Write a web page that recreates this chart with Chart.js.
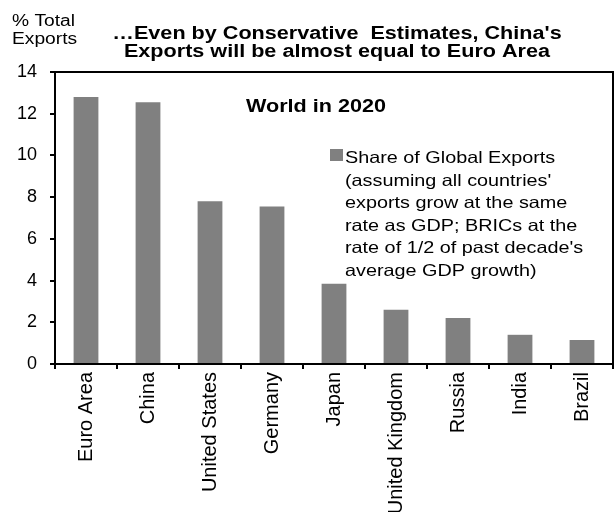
<!DOCTYPE html>
<html>
<head>
<meta charset="utf-8">
<script src="https://cdn.jsdelivr.net/npm/chart.js@4/dist/chart.umd.min.js"></script>
<style>
  html, body { margin: 0; padding: 0; background: #fff; }
  #wrap { width: 616px; height: 512px; }
</style>
</head>
<body>
<div id="wrap"><canvas id="exportsChart"></canvas></div>
<script>
const countries = ['Euro Area', 'China', 'United States', 'Germany', 'Japan', 'United Kingdom', 'Russia', 'India', 'Brazil'];
const exportShare2020 = [12.8, 12.55, 7.8, 7.55, 3.85, 2.6, 2.2, 1.4, 1.15];
const yTicks = [0, 2, 4, 6, 8, 10, 12, 14];

const titleLines = ['\u2026Even by Conservative  Estimates, China\'s', 'Exports will be almost equal to Euro Area'];
const axisTitleLines = ['% Total', 'Exports'];
const panelLabel = 'World in 2020';
const legendLines = [
  'Share of Global Exports',
  '(assuming all countries\'',
  'exports grow at the same',
  'rate as GDP; BRICs at the',
  'rate of 1/2 of past decade\'s',
  'average GDP growth)'
];

const FONT = '"Liberation Sans", Arial, sans-serif';
const BAR_GREY = '#808080';
// text in this chart is set a little wide
const STRETCH = 1.2;

Chart.defaults.font.family = FONT;
Chart.defaults.color = '#000';

function wideText(ctx, text, x, y, align) {
  ctx.save();
  ctx.translate(x, y);
  ctx.scale(STRETCH, 1);
  ctx.textAlign = align || 'left';
  ctx.textBaseline = 'alphabetic';
  ctx.fillText(text, 0, 0);
  ctx.restore();
}

// top/right frame, titles and the boxed legend
const decorations = {
  id: 'decorations',
  afterDraw(chart) {
    const { ctx, chartArea } = chart;
    ctx.save();
    ctx.strokeStyle = '#000';
    ctx.lineWidth = 2;
    ctx.beginPath();
    ctx.moveTo(chartArea.left, chartArea.top);
    ctx.lineTo(chartArea.right, chartArea.top);
    ctx.lineTo(chartArea.right, chartArea.bottom);
    ctx.stroke();

    ctx.fillStyle = '#000';
    ctx.font = 'bold 18px ' + FONT;
    wideText(ctx, titleLines[0], 337, 39, 'center');
    wideText(ctx, titleLines[1], 337, 57, 'center');

    ctx.font = '16px ' + FONT;
    wideText(ctx, axisTitleLines[0], 12, 26);
    wideText(ctx, axisTitleLines[1], 12, 44);

    ctx.font = 'bold 18px ' + FONT;
    wideText(ctx, panelLabel, 246, 112);

    const ds = chart.data.datasets[0];
    ctx.fillStyle = ds.backgroundColor;
    ctx.fillRect(330, 149, 13, 12);
    ctx.fillStyle = '#000';
    ctx.font = '16.5px ' + FONT;
    legendLines.forEach((line, i) => wideText(ctx, line, 345, 163 + i * 22.6));
    ctx.restore();
  }
};

new Chart(document.getElementById('exportsChart'), {
  type: 'bar',
  data: {
    labels: countries,
    datasets: [{
      label: legendLines.join(' '),
      data: exportShare2020,
      backgroundColor: BAR_GREY,
      borderWidth: 0,
      categoryPercentage: 1,
      barPercentage: 0.4
    }]
  },
  options: {
    responsive: true,
    maintainAspectRatio: false,
    animation: false,
    layout: { padding: { top: 72, right: 3, left: 0, bottom: 0 } },
    plugins: {
      legend: { display: false },
      title: { display: false },
      tooltip: { enabled: false }
    },
    scales: {
      x: {
        grid: { drawOnChartArea: false, drawTicks: true, tickLength: 5, color: '#000', lineWidth: 2 },
        border: { color: '#000', width: 2 },
        ticks: {
          font: { size: 20 },
          color: '#000',
          minRotation: 90,
          maxRotation: 90,
          padding: 3,
          autoSkip: false
        },
        afterFit: (scale) => { scale.height = 148; }
      },
      y: {
        min: yTicks[0],
        max: yTicks[yTicks.length - 1],
        grid: { drawOnChartArea: false, drawTicks: true, tickLength: 5, color: '#000', lineWidth: 2 },
        border: { color: '#000', width: 2 },
        ticks: {
          stepSize: yTicks[1] - yTicks[0],
          font: { size: 18 },
          color: '#000',
          padding: 13
        },
        afterFit: (scale) => { scale.width = 55; }
      }
    }
  },
  plugins: [decorations]
});
</script>
</body>
</html>
